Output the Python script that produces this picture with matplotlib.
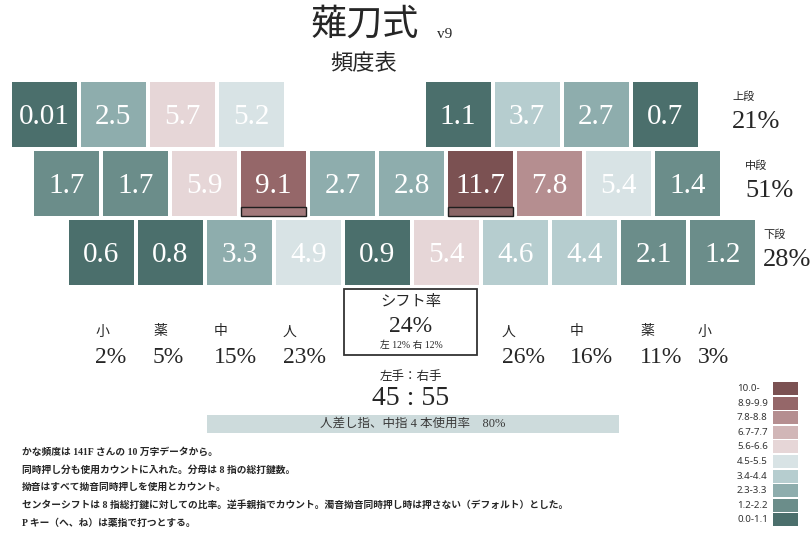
import matplotlib.pyplot as plt
from matplotlib.colors import ListedColormap, BoundaryNorm
from matplotlib.patches import Rectangle

# Latin digits in a serif face, Japanese falls back to Noto CJK
plt.rcParams['font.family'] = ['Liberation Serif', 'Noto Sans CJK JP']

# key frequency (%) per row, left to right (None = no key)
upper_row = [0.01, 2.5, 5.7, 5.2, None, None, 1.1, 3.7, 2.7, 0.7]
home_row = [1.7, 1.7, 5.9, 9.1, 2.7, 2.8, 11.7, 7.8, 5.4, 1.4]
lower_row = [0.6, 0.8, 3.3, 4.9, 0.9, 5.4, 4.6, 4.4, 2.1, 1.2]
rows = [upper_row, home_row, lower_row]

# two lower-row cells are coloured one bin off in the source table
shade_fix = {(2, 5): 6.0, (2, 6): 4.0}
home_keys = [3, 6]  # F and J markers

row_names = ["上段", "中段", "下段"]
row_share = [21, 51, 28]

left_fingers = ["小", "薬", "中", "人"]
left_share = [2, 5, 15, 23]
right_fingers = ["人", "中", "薬", "小"]
right_share = [26, 16, 11, 3]

shift_rate = 24
shift_left = 12
shift_right = 12
hand_ratio = (45, 55)
index_middle_rate = 80

bin_edges = [0, 1.15, 2.25, 3.35, 4.45, 5.55, 6.65, 7.75, 8.85, 9.95, 100]
bin_labels = ["0.0-1.1", "1.2-2.2", "2.3-3.3", "3.4-4.4", "4.5-5.5",
              "5.6-6.6", "6.7-7.7", "7.8-8.8", "8.9-9.9", "10.0-"]
bin_colors = ["#4b6f6c", "#6b8d8a", "#8eadad", "#b6cdcf", "#d8e3e5",
              "#e6d6d7", "#d1b6b7", "#b58e90", "#956769", "#7b5152"]

notes = [
    "かな頻度は 141F さんの 10 万字データから。",
    "同時押し分も使用カウントに入れた。分母は 8 指の総打鍵数。",
    "拗音はすべて拗音同時押しを使用とカウント。",
    "センターシフトは 8 指総打鍵に対しての比率。逆手親指でカウント。濁音拗音同時押し時は押さない（デフォルト）とした。",
    "P キー（へ、ね）は薬指で打つとする。",
]

cmap = ListedColormap(bin_colors)
norm = BoundaryNorm(bin_edges, cmap.N)

fig = plt.figure(figsize=(8.1, 5.42), dpi=100)
ax = fig.add_axes([0, 0, 1, 1])
ax.set_xlim(0, 810)
ax.set_ylim(542, 0)
ax.axis('off')

ink = '#262626'

# title
ax.text(365, 26, "薙刀式", fontsize=26, ha='center', va='center', color=ink)
ax.text(437, 35, "v9", fontsize=11, ha='left', va='center', color=ink)
ax.text(364, 65, "頻度表", fontsize=16, ha='center', va='center', color=ink)

# keyboard cells
pitch = 69
key = 65
row_x0 = [11.5, 34, 69]
row_y0 = [82, 151, 220]
for r, row in enumerate(rows):
    y = row_y0[r]
    for c, v in enumerate(row):
        if v is None:
            continue
        x = row_x0[r] + c * pitch
        color = cmap(norm(shade_fix.get((r, c), v)))
        ax.add_patch(Rectangle((x, y), key, key, facecolor=color, edgecolor='none'))
        ax.text(x + key / 2, y + key / 2 + 9.5, f"{v:g}", fontsize=21,
                ha='center', va='baseline', color='white')
        if r == 1 and c in home_keys:
            mark = tuple(0.88 * ch + 0.12 for ch in color[:3])
            ax.add_patch(Rectangle((x, y + key - 9), key, 9, facecolor=mark,
                                   edgecolor='#1e1e1e', linewidth=1))

# row shares
label_x = [732, 745, 763]
for r in range(3):
    ax.text(label_x[r], row_y0[r] + 15, row_names[r], fontsize=8,
            ha='left', va='center', color=ink)
    ax.text(label_x[r], row_y0[r] + 46, f"{row_share[r]}%", fontsize=19,
            ha='left', va='baseline', color=ink)

# finger shares
left_x = [95, 153, 214, 283]
right_x = [502, 570, 640, 698]
for names, shares, xs in [(left_fingers, left_share, left_x),
                          (right_fingers, right_share, right_x)]:
    for name, share, x in zip(names, shares, xs):
        ax.text(x, 332, name, fontsize=10, ha='left', va='center', color=ink)
        ax.text(x, 363, f"{share}%", fontsize=17, ha='left', va='baseline', color=ink)

# shift rate box
ax.add_patch(Rectangle((344, 289), 133, 66, fill=False, edgecolor='#333333', linewidth=1.3))
ax.text(411, 302, "シフト率", fontsize=11, ha='center', va='center', color=ink)
ax.text(411, 332, f"{shift_rate}%", fontsize=17, ha='center', va='baseline', color=ink)
ax.text(411, 345, f"左 {shift_left}% 右 {shift_right}%", fontsize=7,
        ha='center', va='center', color=ink)

# hand balance
ax.text(411, 377, "左手：右手", fontsize=9, ha='center', va='center', color=ink)
ax.text(411, 405, f"{hand_ratio[0]} : {hand_ratio[1]}", fontsize=20,
        ha='center', va='baseline', color=ink)

# index + middle finger usage bar
ax.add_patch(Rectangle((207, 415), 412, 18, facecolor='#cddbdc', edgecolor='none'))
ax.text(413, 424, f"人差し指、中指 4 本使用率　{index_middle_rate}%", fontsize=9,
        ha='center', va='center', color='#3a3a3a')

# colour legend, highest bin on top
for i in range(len(bin_colors)):
    j = len(bin_colors) - 1 - i
    y = 382 + i * 14.6
    ax.add_patch(Rectangle((773, y), 25, 13, facecolor=bin_colors[j], edgecolor='none'))
    ax.text(737, y + 6.5, bin_labels[j], fontsize=7, family='Noto Sans',
            ha='left', va='center', color='#333333')

# notes
for i, line in enumerate(notes):
    ax.text(22, 452 + i * 17.7, line, fontsize=7, fontweight='bold',
            ha='left', va='center', color=ink)

fig.savefig('out.png', dpi=100)
